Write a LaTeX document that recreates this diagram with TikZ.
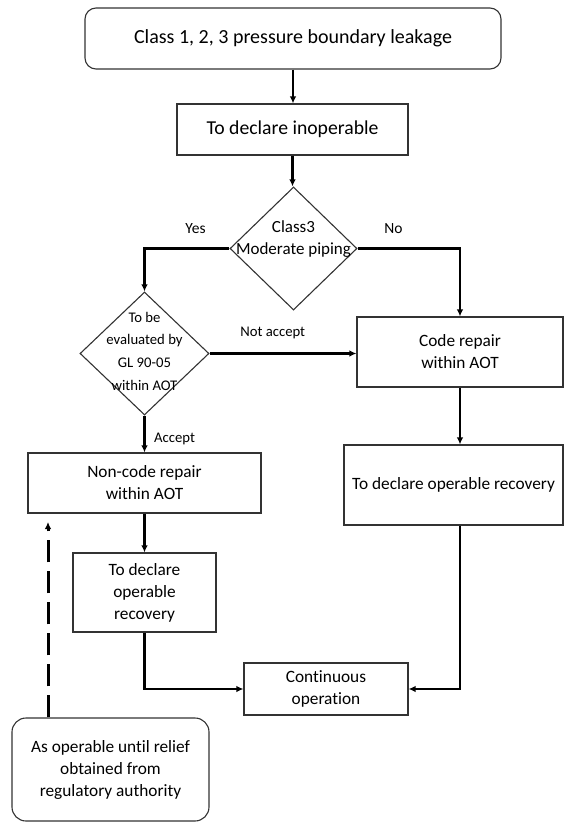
\documentclass[tikz,border=0pt]{standalone}
\usepackage{fontspec}
\setmainfont[Ligatures = NoCommon]{Carlito}
\usetikzlibrary{arrows.meta, shapes.geometric}

\begin{document}
\begin{tikzpicture}[x = 1pt, y = -1pt, > = {Latex[length = 7pt, width = 6.5pt]},
	box/.style = {draw = black!80, line width = 1.1pt, inner sep = 0pt, align = center, font = \fontsize{17.3}{22}\selectfont},
	roundbox/.style = {box, rounded corners = 11pt},
	decision/.style = {diamond, draw = black!80, line width = 1.1pt, inner sep = 0pt},
	flow/.style = {->, line width = 2.4pt},
	lbl/.style = {font = \fontsize{14.7}{18}\selectfont, inner sep = 2pt}]

	\useasboundingbox (0, 0) rectangle (564, 822);

	% Start and first action
	
	\node [roundbox, minimum width = 416pt, minimum height = 61pt, font = \fontsize{20}{24}\selectfont] (leak) at (293, 38.5) {Class 1, 2, 3 pressure boundary leakage};
	\node [box, minimum width = 231pt, minimum height = 51pt, font = \fontsize{19.7}{24}\selectfont] (inop) at (292.5, 129.5) {To declare inoperable};
	
	% Decisions
	
	\node [decision, minimum width = 127pt, minimum height = 123pt] (cls) at (293.5, 248.5) {};
	\node [font = \fontsize{17}{22}\selectfont, align = center] (clstxt) at (293.5, 239) {Class3\\Moderate piping};
	
	\node [decision, minimum width = 129pt, minimum height = 123pt] (eval) at (144.5, 353.5) {};
	\node [font = \fontsize{14.7}{22.7}\selectfont, align = center] (evaltxt) at (144.5, 351) {To be\\evaluated by\\GL 90-05\\within AOT};
	
	% Repair branches
	
	\node [box, minimum width = 206pt, minimum height = 70pt] (code) at (460, 352) {Code repair\\within AOT};
	\node [box, minimum width = 219pt, minimum height = 80pt] (recov) at (453.5, 485) {To declare operable recovery};
	
	\node [box, minimum width = 233pt, minimum height = 60pt] (noncode) at (144.5, 483) {Non-code repair\\within AOT};
	\node [box, minimum width = 143pt, minimum height = 79pt] (decl) at (144.5, 592.5) {To declare\\operable\\recovery};
	
	\node [box, minimum width = 164pt, minimum height = 52pt] (cont) at (326, 689) {Continuous\\operation};
	\node [roundbox, rounded corners = 14pt, minimum width = 197pt, minimum height = 103pt] (relief) at (110.5, 769.5) {As operable until relief\\obtained from\\regulatory authority};
	
	% Connectors
	
	\draw [flow] (leak.south) -- (leak.south |- inop.north);
	\draw [flow] (inop.south) -- (inop.south |- cls.north);
	
	\draw [flow] (cls.west) -| node [lbl, font = \fontsize{15.5}{18}\selectfont, above = 12pt, pos = 0.2] (yes) {Yes} (eval.north);
	\draw [flow] (cls.east) -| node [lbl, font = \fontsize{15.5}{18}\selectfont, above = 12pt, pos = 0.175] (no) {No} (code.north);
	
	\draw [flow] (eval.east) -- node [lbl, above = 11pt, pos = 0.43] (notacc) {Not accept} (eval.east -| code.west);
	\draw [flow] (eval.south) -- node [lbl, right = 6.5pt, pos = 0.63] (acc) {Accept} (noncode.north);
	
	\draw [flow] (noncode) -- (decl);
	\draw [flow] (code.south) -- (code.south |- recov.north);
	\draw [flow] (code.south |- recov.south) |- (cont.east);
	\draw [flow] (decl.south) |- (cont.west);
	
	% Relief from authority
	
	\coordinate (dashtip) at (48, 522);
	\draw [flow, line width = 3pt, dash pattern = on 22pt off 9pt] (relief.north -| dashtip) -- (dashtip);

\end{tikzpicture}
\end{document}
